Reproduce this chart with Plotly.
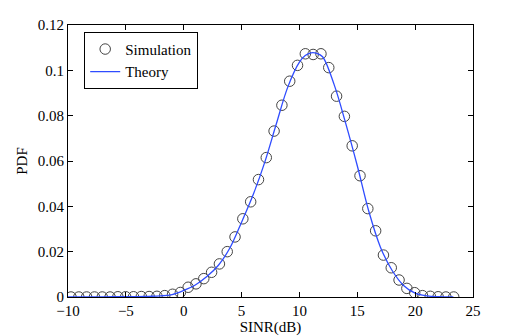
import plotly.graph_objects as go

# simulated histogram (bin centres, dB) and estimated PDF
sim_x = [-9.74, -9.065, -8.39, -7.715, -7.04, -6.365, -5.69, -5.015, -4.34, -3.665,
         -2.99, -2.315, -1.64, -0.965, -0.29, 0.385, 1.06, 1.735, 2.41, 3.085,
         3.76, 4.435, 5.11, 5.785, 6.46, 7.135, 7.81, 8.485, 9.16, 9.835,
         10.51, 11.185, 11.86, 12.535, 13.21, 13.885, 14.56, 15.235, 15.91, 16.585,
         17.26, 17.935, 18.61, 19.285, 19.96, 20.635, 21.31, 21.985, 22.66, 23.335]
sim_pdf = [0.0, 0.0, 0.0, 0.0, 0.0, 0.0, 0.0001, 0.0001, 0.0001, 0.0002,
           0.0002, 0.0003, 0.0006, 0.0012, 0.0020, 0.0043, 0.0058, 0.0081, 0.0109, 0.0146,
           0.0200, 0.0265, 0.0345, 0.0420, 0.0518, 0.0615, 0.0732, 0.0846, 0.0952, 0.1022,
           0.1073, 0.1070, 0.1073, 0.1012, 0.0886, 0.0797, 0.0667, 0.0535, 0.0390, 0.0292,
           0.0185, 0.0129, 0.0075, 0.0038, 0.0019, 0.0006, 0.0003, 0.0001, 0.0, 0.0]

# analytical curve
theory_x = [-10, -8, -6, -4, -3, -2, -1, 0, 1, 2, 3, 4, 5, 6, 7, 8, 9, 10, 10.5, 11, 11.5,
            12, 13, 14, 15, 16, 17, 18, 19, 20, 21, 22, 23.3]
theory_pdf = [0.0, 0.0, 0.0001, 0.0002, 0.0003, 0.0005, 0.0011, 0.0029, 0.0053, 0.0090,
              0.0140, 0.0217, 0.0330, 0.0451, 0.0594, 0.0763, 0.0927, 0.1036, 0.1065, 0.1077,
              0.1075, 0.1060, 0.0937, 0.0766, 0.0579, 0.0377, 0.0220, 0.0118, 0.0051, 0.0017,
              0.0005, 0.0001, 0.0]

font = dict(family="Liberation Serif, Times New Roman, serif", size=15, color="black")

fig = go.Figure()
fig.add_trace(go.Scatter(x=sim_x, y=sim_pdf, mode="markers", name="Simulation",
                         marker=dict(symbol="circle-open", size=10.5,
                                     color="#444444", line=dict(width=1))))
fig.add_trace(go.Scatter(x=theory_x, y=theory_pdf, mode="lines", name="Theory",
                         line=dict(color="#2f4cff", width=1.3, shape="spline")))

axis = dict(showline=True, linecolor="black", linewidth=1, mirror="ticks",
            ticks="inside", ticklen=5, tickcolor="black", showgrid=False,
            zeroline=False, tickfont=font, automargin=False)
fig.update_xaxes(range=[-10, 25], dtick=5, title=dict(text="SINR(dB)", standoff=0, font=font), **axis)
fig.update_yaxes(range=[0, 0.12], dtick=0.02, title=dict(text="PDF", standoff=6, font=font), **axis)

# page body adds an 8px margin, so the figure is a bit smaller than the window
fig.update_layout(
    width=518, height=328,
    margin=dict(l=60, r=53, t=17, b=39, autoexpand=False),
    plot_bgcolor="white", paper_bgcolor="white",
    font=font,
    legend=dict(x=0.04, y=0.975, xanchor="left", yanchor="top",
                bordercolor="black", borderwidth=1, bgcolor="white",
                font=dict(family=font["family"], size=15, color="black"),
                tracegroupgap=0, itemwidth=30),
)

fig.write_html("out.html")
